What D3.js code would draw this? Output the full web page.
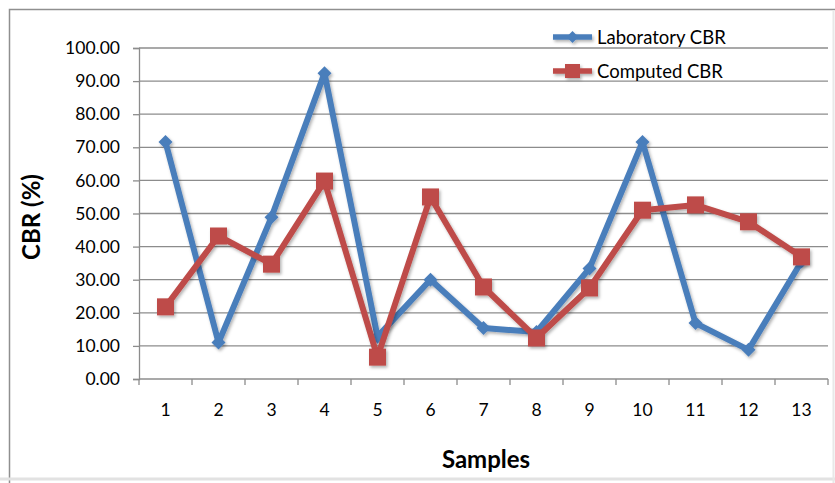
<!DOCTYPE html>
<meta charset="utf-8">
<style>
body { margin: 0; background: #fff; }
text { font-family: Lato, "Open Sans", sans-serif; fill: #000; }
.grid line { stroke: #8c8c8c; stroke-width: 1.3; }
.axis path, .axis line { stroke: #8c8c8c; stroke-width: 1.3; }
.axis text { font-size: 17.5px; }
</style>
<svg width="835" height="483"></svg>
<script src="https://d3js.org/d3.v7.min.js"></script>
<script>
var samples = [1, 2, 3, 4, 5, 6, 7, 8, 9, 10, 11, 12, 13];
var laboratory = [71.6, 11.0, 48.9, 92.4, 12.8, 30.0, 15.4, 14.2, 33.4, 71.6, 16.9, 8.8, 35.5];
var computed = [21.8, 43.2, 34.7, 59.8, 6.6, 55.0, 27.8, 12.4, 27.5, 51.0, 52.6, 47.5, 36.9];
var yTicks = [0, 10, 20, 30, 40, 50, 60, 70, 80, 90, 100];
var seriesNames = ["Laboratory CBR", "Computed CBR"];

var svg = d3.select("svg");
var plotLeft = 139, plotRight = 828, plotTop = 48, plotBottom = 379;

// chart frame
svg.append("path")
    .attr("d", "M9.5,483 V9.5 H835")
    .attr("fill", "none").attr("stroke", "#8f8f8f").attr("stroke-width", 1.5);
svg.append("line").attr("x1", 0).attr("x2", 835).attr("y1", 479).attr("y2", 479)
    .attr("stroke", "#e2e2e2").attr("stroke-width", 3);
svg.append("line").attr("x1", 833.5).attr("x2", 833.5).attr("y1", 10).attr("y2", 483)
    .attr("stroke", "#e8e8e8").attr("stroke-width", 2);

var x = d3.scaleBand().domain(samples).range([plotLeft, plotRight]);
var y = d3.scaleLinear().domain([0, 100]).range([plotBottom, plotTop]);

svg.append("g").attr("class", "grid")
  .selectAll("line").data(yTicks.slice(1)).enter().append("line")
    .attr("x1", plotLeft).attr("x2", plotRight)
    .attr("y1", function(d) { return y(d); }).attr("y2", function(d) { return y(d); });

svg.append("g").attr("class", "axis")
    .attr("transform", "translate(" + plotLeft + ",0)")
    .call(d3.axisLeft(y).tickValues(yTicks).tickSize(6).tickPadding(13)
      .tickFormat(function(d) { return d.toFixed(2); }));

var xAxis = svg.append("g").attr("class", "axis")
    .attr("transform", "translate(0," + plotBottom + ")")
    .call(d3.axisBottom(x).tickSize(0).tickPadding(25));
xAxis.select(".domain").attr("d", "M" + plotLeft + ",0H" + plotRight);
// tick marks between categories
xAxis.selectAll(".sep").data(d3.range(samples.length + 1)).enter().append("line")
    .attr("class", "sep")
    .attr("x1", function(i) { return plotLeft + i * x.bandwidth(); })
    .attr("x2", function(i) { return plotLeft + i * x.bandwidth(); })
    .attr("y1", 0).attr("y2", 6);

svg.append("text")
    .attr("transform", "translate(40,217) rotate(-90)")
    .attr("text-anchor", "middle")
    .style("font-size", "24px").style("font-weight", "bold")
    .text("CBR (%)");
svg.append("text")
    .attr("x", 486).attr("y", 468)
    .attr("text-anchor", "middle")
    .style("font-size", "24px").style("font-weight", "bold")
    .text("Samples");

var defs = svg.append("defs");
var f = defs.append("filter").attr("id", "sh").attr("x", "-50%").attr("y", "-50%")
    .attr("width", "200%").attr("height", "200%");
f.append("feDropShadow").attr("dx", 1.5).attr("dy", 2).attr("stdDeviation", 1.5)
    .attr("flood-color", "#000").attr("flood-opacity", 0.3);

var cx = function(d, i) { return x(samples[i]) + x.bandwidth() / 2; };
var line = d3.line().x(cx).y(function(d) { return y(d); });

var blue = "#4a7ebb", red = "#be4b48";

var gBlue = svg.append("g").attr("filter", "url(#sh)");
gBlue.append("path").datum(laboratory).attr("d", line)
    .attr("fill", "none").attr("stroke", blue).attr("stroke-width", 6)
    .attr("stroke-linejoin", "round");
gBlue.selectAll("path.m").data(laboratory).enter().append("path")
    .attr("class", "m")
    .attr("d", d3.symbol().type(d3.symbolDiamond2).size(125))
    .attr("transform", function(d, i) { return "translate(" + cx(d, i) + "," + y(d) + ")"; })
    .attr("fill", blue);

var gRed = svg.append("g").attr("filter", "url(#sh)");
gRed.append("path").datum(computed).attr("d", line)
    .attr("fill", "none").attr("stroke", red).attr("stroke-width", 6)
    .attr("stroke-linejoin", "round");
gRed.selectAll("rect").data(computed).enter().append("rect")
    .attr("x", function(d, i) { return cx(d, i) - 8.5; })
    .attr("y", function(d) { return y(d) - 8.5; })
    .attr("width", 17).attr("height", 17)
    .attr("fill", red);

// legend
var legend = svg.append("g");
[blue, red].forEach(function(c, i) {
  var ly = 37 + i * 34;
  var g = legend.append("g").attr("filter", "url(#sh)");
  g.append("line").attr("x1", 553).attr("x2", 592).attr("y1", ly).attr("y2", ly)
      .attr("stroke", c).attr("stroke-width", 5.5);
  if (i === 0) {
    g.append("path").attr("d", d3.symbol().type(d3.symbolDiamond2).size(90))
        .attr("transform", "translate(572.5," + ly + ")").attr("fill", c);
  } else {
    g.append("rect").attr("x", 565).attr("y", ly - 7).attr("width", 15).attr("height", 14)
        .attr("fill", c);
  }
  legend.append("text").attr("x", 597).attr("y", ly + 6.5)
      .style("font-size", "18.5px").text(seriesNames[i]);
});
</script>
